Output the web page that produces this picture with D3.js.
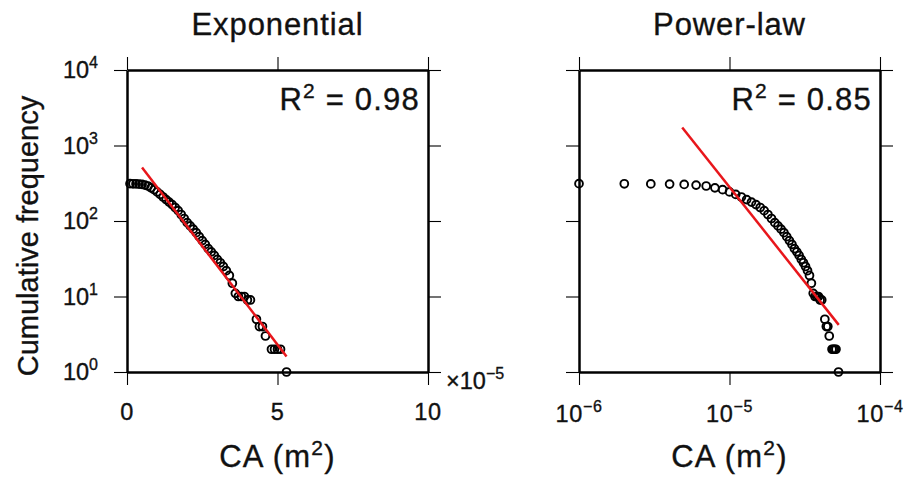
<!DOCTYPE html>
<html>
<head>
<meta charset="utf-8">
<script src="https://cdn.jsdelivr.net/npm/d3@7/dist/d3.min.js"></script>
<style>
  html, body { margin: 0; padding: 0; background: #fff; }
  svg { display: block; }
  text { font-family: "Liberation Sans", Arial, Helvetica, sans-serif; fill: #111; stroke: #111; stroke-width: 0.35px; }
</style>
</head>
<body>
<svg id="chart" width="909" height="480"></svg>
<script>
// ---- Data ----
// Contributing area (m^2) of each point
const caValues = [1e-6, 2e-6, 3e-6, 4e-6, 5e-6, 6e-6, 7e-6, 8e-6, 9e-6, 10e-6,
  11e-6, 12e-6, 13e-6, 14e-6, 15e-6, 16e-6, 17e-6, 18e-6, 19e-6, 20e-6,
  21e-6, 22e-6, 23e-6, 24e-6, 25e-6, 26e-6, 27e-6, 28e-6, 29e-6, 30e-6,
  31e-6, 32e-6, 33e-6, 34e-6, 35e-6, 36e-6, 37e-6, 38e-6, 39e-6, 40e-6,
  41e-6, 43e-6, 44e-6, 45e-6, 46e-6, 48e-6, 49e-6, 50e-6, 51e-6, 53e-6];
// Cumulative frequency of each point
const cumFreq = [312, 311, 310, 308, 305, 299, 291, 275, 260, 243,
  225, 208, 192, 178, 165, 151, 137, 122, 108, 95,
  86, 78, 70, 62, 55, 49, 43, 39, 35, 31,
  28, 25, 22, 19, 15, 11, 10, 10, 10, 9,
  9, 5, 4, 4, 3, 2, 2, 2, 2, 1];

// Fitted lines (end points)
const expFitX = [0.5e-5, 5.3e-5];
const expFitY = [513, 1.61];
const powFitX = [4.85e-6, 5.32e-5];
const powFitY = [1735, 4.21];

const panelTitles = ["Exponential", "Power-law"];
const r2Labels = ["0.98", "0.85"];
const yTickExp = [0, 1, 2, 3, 4];
const linTicks = [0, 5e-5, 1e-4];
const linTickLabels = ["0", "5", "10"];
const logXTickExp = [-6, -5, -4];

// ---- Layout ----
const svg = d3.select("#chart");
const plotTop = 70, plotBottom = 372;
const panels = [
  { left: 127, right: 428 },
  { left: 579, right: 880 }
];
const TICK = 13;
const minus = "\u2212";

const yScale = d3.scaleLog().domain([1, 1e4]).range([plotBottom, plotTop]);
const xLin = d3.scaleLinear().domain([0, 1e-4]).range([panels[0].left, panels[0].right]);
const xLog = d3.scaleLog().domain([1e-6, 1e-4]).range([panels[1].left, panels[1].right]);

const points = caValues.map((c, i) => ({ x: c, y: cumFreq[i] }));

function styleAxis(g) {
  g.select(".domain").attr("stroke", "#000").attr("stroke-width", 2.5);
  g.selectAll(".tick line").attr("stroke", "#000").attr("stroke-width", 1.1);
  g.selectAll(".tick text").remove();
}

function drawPanel(p, xScale, xTicks, fit, idx) {
  const g = svg.append("g");
  const yVals = yTickExp.map(e => Math.pow(10, e));
  const gl = g.append("g").attr("transform", `translate(${p.left},0)`)
    .call(d3.axisLeft(yScale).tickValues(yVals).tickSize(TICK).tickSizeOuter(0).tickFormat(""));
  styleAxis(gl);
  const gr = g.append("g").attr("transform", `translate(${p.right},0)`)
    .call(d3.axisRight(yScale).tickValues(yVals).tickSize(TICK).tickSizeOuter(0).tickFormat(""));
  styleAxis(gr);
  const gb = g.append("g").attr("transform", `translate(0,${plotBottom})`)
    .call(d3.axisBottom(xScale).tickValues(xTicks).tickSize(TICK).tickSizeOuter(0).tickFormat(""));
  styleAxis(gb);
  const gt = g.append("g").attr("transform", `translate(0,${plotTop})`)
    .call(d3.axisTop(xScale).tickValues(xTicks).tickSize(TICK).tickSizeOuter(0).tickFormat(""));
  styleAxis(gt);

  g.append("g").selectAll("circle").data(points).join("circle")
    .attr("cx", d => xScale(d.x))
    .attr("cy", d => yScale(d.y))
    .attr("r", 3.9)
    .attr("fill", "none")
    .attr("stroke", "#000")
    .attr("stroke-width", 1.9);

  g.append("line")
    .attr("x1", xScale(fit.x[0])).attr("y1", yScale(fit.y[0]))
    .attr("x2", xScale(fit.x[1])).attr("y2", yScale(fit.y[1]))
    .attr("stroke", "#e8161b").attr("stroke-width", 2.5);

  g.append("text")
    .attr("x", (p.left + p.right) / 2).attr("y", 35)
    .attr("text-anchor", "middle").attr("font-size", 31)
    .attr("letter-spacing", 0.9)
    .text(panelTitles[idx]);

  const r2 = g.append("text")
    .attr("x", p.right - 8).attr("y", 110)
    .attr("text-anchor", "end").attr("font-size", 31)
    .attr("letter-spacing", 1.2);
  r2.append("tspan").text("R");
  r2.append("tspan").attr("dy", -12).attr("font-size", 21).text("2");
  r2.append("tspan").attr("dy", 12).text(" = " + r2Labels[idx]);

  const xl = g.append("text")
    .attr("x", (p.left + p.right) / 2).attr("y", 467)
    .attr("text-anchor", "middle").attr("font-size", 31)
    .attr("letter-spacing", 1.2);
  xl.append("tspan").text("CA (m");
  xl.append("tspan").attr("dy", -12).attr("font-size", 21).text("2");
  xl.append("tspan").attr("dy", 12).text(")");
  return g;
}

drawPanel(panels[0], xLin, linTicks, { x: expFitX, y: expFitY }, 0);
drawPanel(panels[1], xLog, logXTickExp.map(e => Math.pow(10, e)), { x: powFitX, y: powFitY }, 1);

yTickExp.forEach(e => {
  const t = svg.append("text")
    .attr("x", 98).attr("y", yScale(Math.pow(10, e)) + 8)
    .attr("text-anchor", "end").attr("font-size", 23.5);
  t.append("tspan").text("10");
  t.append("tspan").attr("dy", -10).attr("font-size", 16).text(String(e));
});

linTicks.forEach((v, i) => {
  svg.append("text")
    .attr("x", xLin(v)).attr("y", 420)
    .attr("text-anchor", "middle").attr("font-size", 23.5)
    .attr("letter-spacing", 0.6)
    .text(linTickLabels[i]);
});
const mult = svg.append("text").attr("x", 446).attr("y", 389).attr("font-size", 23.5);
mult.append("tspan").text("\u00d710");
mult.append("tspan").attr("dy", -10).attr("font-size", 16).text(minus + "5");

logXTickExp.forEach(e => {
  const t = svg.append("text")
    .attr("x", xLog(Math.pow(10, e))).attr("y", 422)
    .attr("text-anchor", "middle").attr("font-size", 23.5)
    .attr("letter-spacing", 0.6);
  t.append("tspan").text("10");
  t.append("tspan").attr("dy", -10).attr("font-size", 16).text(minus + String(-e));
});

svg.append("text")
  .attr("transform", "translate(38,236) rotate(-90)")
  .attr("text-anchor", "middle").attr("font-size", 29)
  .text("Cumulative frequency");
</script>
</body>
</html>
